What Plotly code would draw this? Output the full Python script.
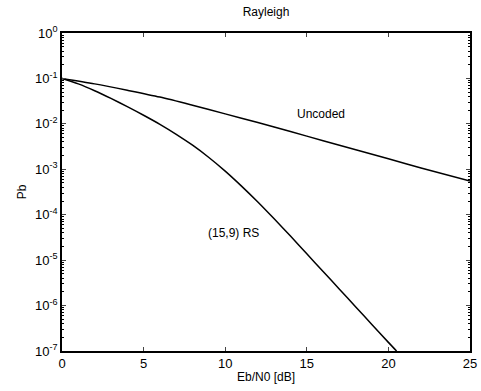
import plotly.graph_objects as go

# Eb/N0 [dB]
ebn0_uncoded = [0, 2, 4, 6, 8, 10, 12, 14, 16, 18, 20, 22, 25]
log_pb_uncoded = [-1.00, -1.12, -1.26, -1.41, -1.59, -1.78, -1.97, -2.17, -2.37, -2.57, -2.77, -2.97, -3.26]

ebn0_rs = [0, 1, 2, 3, 4, 5, 6, 7, 8, 9, 10, 11, 12, 13, 14, 15, 16, 17, 18, 19, 20, 20.5]
log_pb_rs = [-1.00, -1.12, -1.27, -1.44, -1.62, -1.81, -2.01, -2.23, -2.47, -2.74, -3.04, -3.37,
             -3.72, -4.09, -4.47, -4.86, -5.25, -5.64, -6.03, -6.42, -6.81, -7.0]

pb_uncoded = [10 ** v for v in log_pb_uncoded]
pb_rs = [10 ** v for v in log_pb_rs]

x_ticks = [0, 5, 10, 15, 20, 25]
y_exps = [0, -1, -2, -3, -4, -5, -6, -7]
y_tickvals = [10 ** e for e in y_exps]
y_ticktext = ["10<sup>%d</sup>" % e for e in y_exps]

font = "Liberation Sans, Arial, sans-serif"

fig = go.Figure()
fig.add_trace(go.Scatter(x=ebn0_uncoded, y=pb_uncoded, mode="lines",
                         line=dict(color="black", width=1.5, shape="spline", smoothing=0.8),
                         showlegend=False))
fig.add_trace(go.Scatter(x=ebn0_rs, y=pb_rs, mode="lines",
                         line=dict(color="black", width=1.5, shape="spline", smoothing=0.8),
                         showlegend=False))

fig.add_annotation(x=15.9, y=-1.78, xref="x", yref="y", text="Uncoded", showarrow=False,
                   font=dict(size=12, color="black", family=font))
fig.add_annotation(x=10.5, y=-4.4, xref="x", yref="y", text="(15,9) RS", showarrow=False,
                   font=dict(size=12, color="black", family=font))

fig.update_layout(
    width=481, height=391,
    margin=dict(l=62, r=11, t=33, b=40),
    paper_bgcolor="white", plot_bgcolor="white",
    font=dict(family=font, size=12, color="black"),
    title=dict(text="Rayleigh", x=0.5, xref="paper", y=1, yref="container",
               yanchor="top", pad=dict(t=8), font=dict(size=12, family=font, color="black")),
    xaxis=dict(range=[0, 25], tickvals=x_ticks, ticks="inside", ticklen=4, automargin=False,
               showline=True, linecolor="black", linewidth=1.5, mirror="ticks",
               showgrid=False, zeroline=False, tickfont=dict(size=13),
               title=dict(text="Eb/N0 [dB]", standoff=2, font=dict(size=12, family=font))),
    yaxis=dict(type="log", range=[-7, 0], tickvals=y_tickvals, ticktext=y_ticktext,
               ticks="inside", ticklen=4, automargin=False, tickfont=dict(size=13),
               showline=True, linecolor="black", linewidth=1.5, mirror="ticks",
               showgrid=False, zeroline=False,
               minor=dict(ticks="inside", ticklen=2, dtick="D1", tickcolor="black", showgrid=False),
               title=dict(text="Pb", standoff=6, font=dict(size=12, family=font))),
)

fig.write_html(
    "out.html",
    config={"displayModeBar": False},
    post_script="document.body.style.margin='0';document.body.style.overflow='hidden';",
)
